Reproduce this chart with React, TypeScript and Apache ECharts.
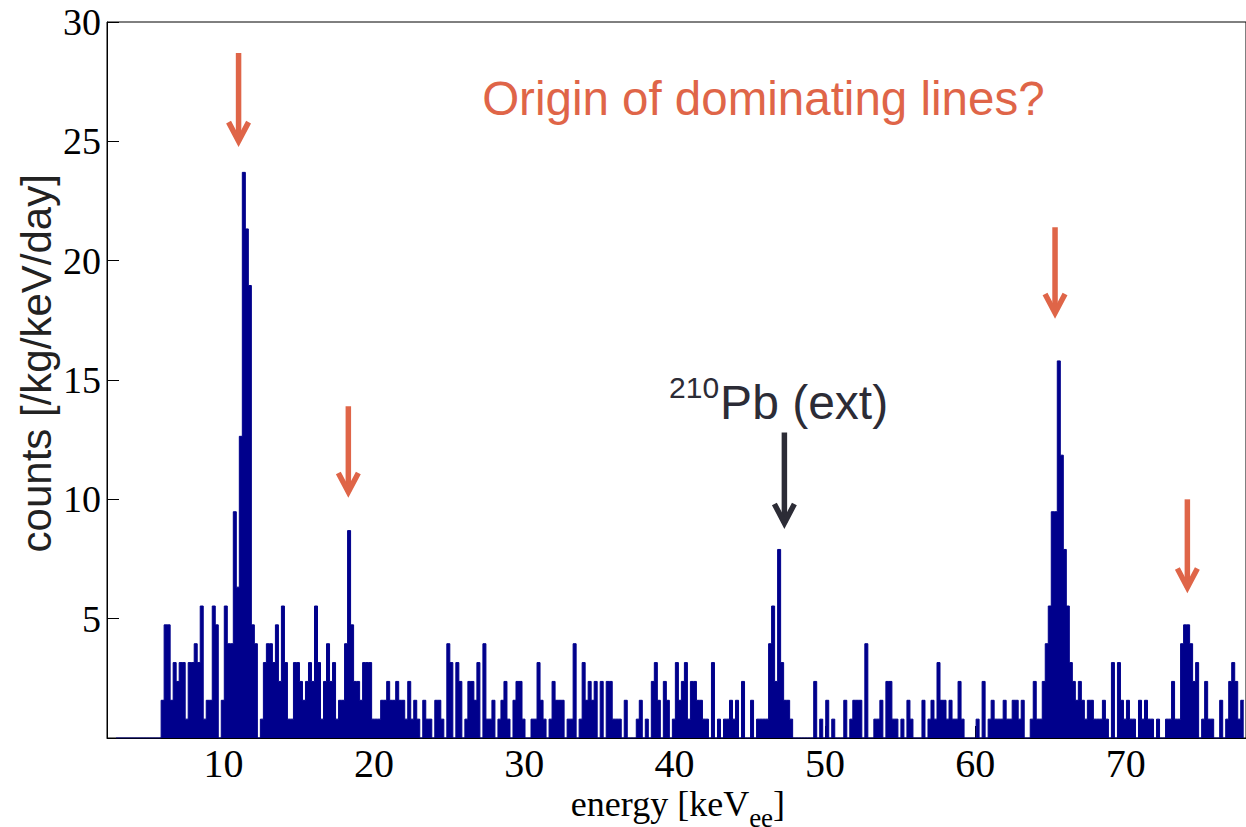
import React, { useEffect, useRef } from "react";
import * as echarts from "echarts";

// Histogram definition (keV)
const BIN_START = 2.85;
const BIN_WIDTH = 0.2;
const X_MIN = 2.25;
const X_MAX = 78;
const Y_MAX = 30;
const Y_STEP = 5;

// counts [/kg/keV/day] per 0.2 keV bin
const LEAD_ZERO = [0, 0, 0, 0, 0, 0, 0, 0, 0, 0, 0, 0, 0, 0, 0];
const SEG_A = [
  1.58, 4.74, 4.74, 1.58, 3.16, 2.37, 3.16, 3.16, 0.79, 3.16,
  3.16, 3.95, 3.16, 5.53, 0.79, 1.58, 1.58, 5.53, 4.74, 0,
  1.58, 5.53, 3.95, 3.95, 9.48, 6.32, 12.64, 23.7, 21.33, 18.96,
  4.74, 3.95, 0, 0.79, 3.16, 3.95, 3.95, 3.16, 4.74, 2.37,
  5.53, 3.16, 0.79, 0.79, 3.16, 3.16, 2.37, 1.58, 2.37, 3.16,
  2.37, 5.53, 3.16, 0.79, 2.37, 3.95, 2.37, 3.16, 0.79, 1.58,
  1.58, 3.95, 8.69, 4.74, 2.37, 2.37, 1.58, 3.16, 3.16, 3.16,
  0.79, 0.79, 0.79, 1.58, 1.58, 2.37, 1.58, 1.58, 2.37,
];
const SEG_B = [
  1.58, 1.58, 0.79, 2.37, 0.79, 1.58, 0.79, 0, 1.58, 0.79,
  0.79, 0, 1.58, 1.58, 0.79, 0, 3.95, 3.16, 0, 3.16,
  2.37, 0, 0.79, 2.37, 2.37, 1.58, 3.16, 0, 3.95, 0.79,
  0.79, 1.58, 0, 0.79, 1.58, 2.37, 0.79, 0, 1.58, 2.37,
  2.37, 0.79, 0, 0, 0.79, 0.79, 3.16, 1.58, 0.79, 0,
  0.79, 2.37, 1.58, 1.58, 1.58, 0, 0.79, 0.79, 3.95, 0,
  0.79, 3.16, 1.58, 2.37, 1.58, 2.37, 0, 2.37, 0, 2.37,
  2.37, 0.79, 0.79, 0.79, 0, 1.58, 0, 0, 0, 0.79,
  1.58, 0, 0.79, 0, 2.37, 3.16, 1.58, 0, 2.37, 1.58,
  0, 0.79, 3.16, 1.58, 2.37, 3.16, 0.79, 2.37, 2.37, 1.58, 1.58,
];
const SEG_C = [
  0.79, 0.79, 0, 3.16, 0, 0.79, 0, 0.79, 0.79, 1.58,
  0.79, 1.58, 0, 2.37, 0, 0, 1.58, 0, 0.79, 0.79,
  0.79, 0.79, 3.95, 5.53, 2.37, 7.9, 3.16, 1.58, 1.58, 0.79,
  0, 0, 0, 0, 0, 0, 0, 2.37, 0, 0.79,
  0, 1.58, 0, 0.79, 0, 0, 0, 1.58, 0, 0.79,
  1.58, 1.58, 1.58, 0, 3.95, 0, 0, 0.79, 0.79, 1.58,
  0, 2.37, 2.37, 0.79, 0.79, 0, 0.79, 0, 1.58, 0.79,
  0, 0, 0, 1.58, 0, 0.79, 1.58, 0.79, 3.16, 1.58,
  1.58, 0.79, 1.58, 0.79, 0.79, 2.37, 0.79, 0, 0, 0,
  0, 0.79, 0, 2.37,
];
const SEG_D = [
  0, 0.79, 1.58, 0.79, 0.79, 0.79, 1.58, 0.79, 0.79, 1.58,
  1.58, 0.79, 1.58, 0, 0, 0.79, 2.37, 0.79, 0.79, 2.37,
  3.95, 5.53, 9.48, 9.48, 15.8, 11.85, 7.9, 5.53, 3.16, 2.37,
  1.58, 2.37, 1.58, 0.79, 1.58, 1.58, 0.79, 0.79, 0.79, 1.58,
  0.79, 0, 3.16, 0, 3.16, 1.58, 0.79, 1.58, 0.79, 0.79,
  0, 1.58, 0.79, 1.58, 0.79, 0.79, 0, 0.79, 0, 0,
  0.79, 0.79, 2.37, 0.79, 0.79, 3.95, 4.74, 4.74, 3.95, 2.37,
  3.16, 0, 0.79, 2.37, 0.79, 0.79, 0, 0, 1.58, 0,
  0.79, 2.37, 3.16, 2.37, 0.79, 1.58,
];

// Arrow annotations: energy, y of tail, y of tip (data units)
const ARROW_E = [11.0, 18.3, 65.3, 74.1, 47.3];
const ARROW_FROM = [28.7, 13.9, 21.4, 10.0, 12.8];
const ARROW_TO = [24.8, 10.1, 17.6, 6.1, 8.8];
const ARROW_DARK = [false, false, false, false, true];

const TITLE = "Origin of dominating lines?";
const NAVY = "#00008C";
const ORANGE = "#DF6548";
const DARK = "#2C2C36";
const SERIF = '"Liberation Serif", "Times New Roman", serif';
const SANS = '"Liberation Sans", Arial, Helvetica, sans-serif';

function textWidth(text: string, font: string): number {
  const c = document.createElement("canvas").getContext("2d");
  if (!c) return text.length * 20;
  c.font = font;
  return c.measureText(text).width;
}

export default function App() {
  const ref = useRef<HTMLDivElement>(null);

  useEffect(() => {
    if (!ref.current) return;
    const chart = echarts.init(ref.current, null, { renderer: "svg" });
    const values = [...LEAD_ZERO, ...SEG_A, ...SEG_B, ...SEG_C, ...SEG_D];
    const data: number[][] = values.map((v, i) => [BIN_START + i * BIN_WIDTH, v]);
    data.push([BIN_START + values.length * BIN_WIDTH, values[values.length - 1]]);

    chart.setOption({
      animation: false,
      backgroundColor: "#ffffff",
      grid: {
        left: 107,
        top: 22,
        width: 1141,
        height: 716,
        show: true,
        borderColor: "#000",
        borderWidth: 1,
        backgroundColor: "transparent",
      },
      xAxis: {
        type: "value",
        min: X_MIN,
        max: X_MAX,
        minInterval: 10,
        maxInterval: 10,
        axisLine: { show: true, lineStyle: { color: "#000", width: 1 } },
        axisTick: { show: true, inside: true, length: 12, lineStyle: { color: "#000" } },
        axisLabel: {
          show: true,
          showMinLabel: false,
          showMaxLabel: false,
          color: "#000",
          fontFamily: SERIF,
          fontSize: 40,
          margin: 5,
        },
        splitLine: { show: false },
      },
      yAxis: {
        type: "value",
        min: 0,
        max: Y_MAX,
        interval: Y_STEP,
        axisLine: { show: true, lineStyle: { color: "#000", width: 1 } },
        axisTick: { show: true, inside: true, length: 12, lineStyle: { color: "#000" } },
        axisLabel: {
          show: true,
          showMinLabel: false,
          color: "#000",
          fontFamily: SERIF,
          fontSize: 38,
          margin: 6,
        },
        splitLine: { show: false },
      },
      series: [
        {
          type: "line",
          step: "end",
          data,
          symbol: "none",
          showSymbol: false,
          lineStyle: { color: NAVY, width: 1 },
          itemStyle: { color: NAVY },
          areaStyle: { color: NAVY, opacity: 1 },
        },
      ],
    });

    const px = (x: number, y: number) =>
      chart.convertToPixel({ xAxisIndex: 0, yAxisIndex: 0 }, [x, y]) as number[];

    const graphics: any[] = [];

    ARROW_E.forEach((e, i) => {
      const color = ARROW_DARK[i] ? DARK : ORANGE;
      const tail = px(e, ARROW_FROM[i]);
      const tip = px(e, ARROW_TO[i]);
      const vx = tip[0];
      const vy = tip[1] - 5;
      graphics.push({
        type: "line",
        shape: { x1: tail[0], y1: tail[1], x2: vx, y2: vy },
        style: { stroke: color, lineWidth: 5.5 },
        silent: true,
      });
      graphics.push({
        type: "polyline",
        shape: { points: [[vx - 10, vy - 19], [vx, vy], [vx + 10, vy - 19]] },
        style: { stroke: color, lineWidth: 5.5, fill: null, lineJoin: "miter", lineCap: "butt" },
        silent: true,
      });
    });

    // Title
    const tpos = px(27.2, 26.8);
    graphics.push({
      type: "text",
      x: tpos[0],
      y: tpos[1],
      style: {
        text: TITLE,
        font: `47.5px ${SANS}`,
        fill: ORANGE,
        textAlign: "left",
        textVerticalAlign: "middle",
      },
      silent: true,
    });

    // 210Pb (ext) label
    const supFont = `30px ${SANS}`;
    const mainFont = `48px ${SANS}`;
    const spos = px(39.63, 14.7);
    const supW = textWidth("210", supFont);
    graphics.push({
      type: "text",
      x: spos[0],
      y: spos[1],
      style: { text: "210", font: supFont, fill: DARK, textAlign: "left", textVerticalAlign: "middle" },
      silent: true,
    });
    const mpos = px(39.63, 14.06);
    graphics.push({
      type: "text",
      x: spos[0] + supW + 1,
      y: mpos[1],
      style: { text: "Pb (ext)", font: mainFont, fill: DARK, textAlign: "left", textVerticalAlign: "middle" },
      silent: true,
    });

    // x-axis name: energy [keV_ee]
    const nameFont = `36px ${SERIF}`;
    const subFont = `27px ${SERIF}`;
    const npos = px(33.1, 0);
    const nameX = npos[0];
    const nameY = npos[1] + 66;
    const w1 = textWidth("energy [keV", nameFont);
    const w2 = textWidth("ee", subFont);
    graphics.push({
      type: "text",
      x: nameX,
      y: nameY,
      style: { text: "energy [keV", font: nameFont, fill: "#000", textAlign: "left", textVerticalAlign: "middle" },
      silent: true,
    });
    graphics.push({
      type: "text",
      x: nameX + w1,
      y: nameY + 14,
      style: { text: "ee", font: subFont, fill: "#000", textAlign: "left", textVerticalAlign: "middle" },
      silent: true,
    });
    graphics.push({
      type: "text",
      x: nameX + w1 + w2,
      y: nameY,
      style: { text: "]", font: nameFont, fill: "#000", textAlign: "left", textVerticalAlign: "middle" },
      silent: true,
    });

    // y-axis name
    const ypos = px(X_MIN, 15.7);
    graphics.push({
      type: "text",
      x: ypos[0] - 71,
      y: ypos[1],
      rotation: Math.PI / 2,
      style: {
        text: "counts [/kg/keV/day]",
        font: `42px ${SANS}`,
        fill: "#222",
        textAlign: "center",
        textVerticalAlign: "middle",
      },
      silent: true,
    });

    chart.setOption({ graphic: graphics });

    return () => chart.dispose();
  }, []);

  return (
    <div
      ref={ref}
      style={{ position: "fixed", left: 0, top: 0, width: 1246, height: 827, background: "#fff" }}
    />
  );
}
